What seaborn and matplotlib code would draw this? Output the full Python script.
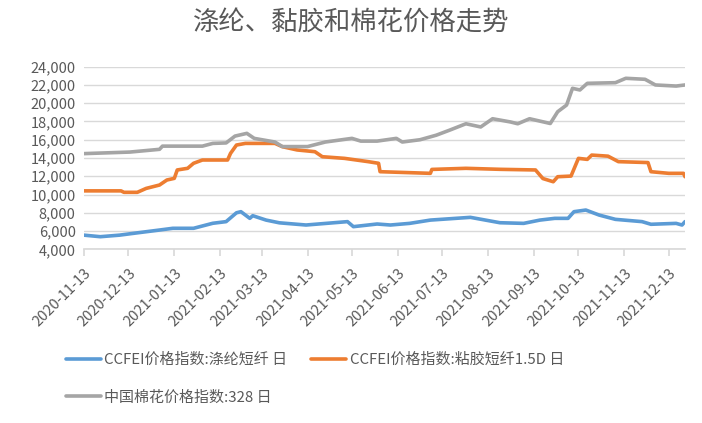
import matplotlib
matplotlib.use("Agg")
import matplotlib.pyplot as plt
import matplotlib.dates as mdates
import matplotlib.ticker as mticker
import pandas as pd
import seaborn as sns

# CCFEI价格指数:涤纶短纤
fechas_dt = ["2020-11-13", "2020-11-24", "2020-12-07", "2020-12-16", "2021-01-03",
             "2021-01-12", "2021-01-26", "2021-02-08", "2021-02-17", "2021-02-24",
             "2021-02-27", "2021-03-05", "2021-03-07", "2021-03-16", "2021-03-25",
             "2021-04-12", "2021-05-10", "2021-05-14", "2021-05-30", "2021-06-08",
             "2021-06-21", "2021-07-05", "2021-08-01", "2021-08-21", "2021-09-06",
             "2021-09-17", "2021-09-27", "2021-10-06", "2021-10-10", "2021-10-18",
             "2021-10-27", "2021-11-07", "2021-11-25", "2021-12-01", "2021-12-18",
             "2021-12-22", "2021-12-24"]
valores_dt = [5550, 5380, 5550, 5740, 6110, 6300, 6300, 6850, 7030, 8000,
              8120, 7390, 7680, 7200, 6900, 6660, 7030, 6480, 6770, 6660,
              6840, 7200, 7500, 6910, 6840, 7200, 7390, 7390, 8120, 8300,
              7750, 7280, 7030, 6740, 6840, 6660, 7030]

# CCFEI价格指数:粘胶短纤1.5D
fechas_vsf = ["2020-11-13", "2020-12-08", "2020-12-10", "2020-12-19", "2020-12-25",
              "2021-01-03", "2021-01-08", "2021-01-13", "2021-01-15", "2021-01-22",
              "2021-01-26", "2021-02-01", "2021-02-18", "2021-02-20", "2021-02-24",
              "2021-03-02", "2021-03-22", "2021-03-27", "2021-04-06", "2021-04-18",
              "2021-04-23", "2021-05-08", "2021-05-24", "2021-05-31", "2021-06-01",
              "2021-07-05", "2021-07-06", "2021-07-29", "2021-08-21", "2021-09-14",
              "2021-09-19", "2021-09-26", "2021-09-29", "2021-10-08", "2021-10-13",
              "2021-10-19", "2021-10-22", "2021-11-02", "2021-11-09", "2021-11-29",
              "2021-12-01", "2021-12-13", "2021-12-23", "2021-12-24"]
valores_vsf = [10400, 10400, 10240, 10240, 10670, 11040, 11590, 11770, 12690, 12870,
               13420, 13780, 13780, 14510, 15420, 15600, 15600, 15240, 14880, 14690,
               14140, 13960, 13600, 13420, 12500, 12320, 12750, 12870, 12760, 12690,
               11750, 11400, 11950, 12020, 13960, 13850, 14320, 14200, 13600, 13500,
               12500, 12320, 12320, 11950]

# 中国棉花价格指数:328
fechas_algodon = ["2020-11-13", "2020-12-14", "2021-01-03", "2021-01-05", "2021-02-01",
                  "2021-02-08", "2021-02-17", "2021-02-23", "2021-03-03", "2021-03-08",
                  "2021-03-22", "2021-03-27", "2021-04-13", "2021-04-25", "2021-05-13",
                  "2021-05-19", "2021-05-30", "2021-06-12", "2021-06-16", "2021-06-28",
                  "2021-07-09", "2021-07-18", "2021-07-29", "2021-08-08", "2021-08-16",
                  "2021-08-28", "2021-09-02", "2021-09-10", "2021-09-24", "2021-09-29",
                  "2021-10-05", "2021-10-09", "2021-10-14", "2021-10-19", "2021-11-07",
                  "2021-11-14", "2021-11-27", "2021-12-04", "2021-12-18", "2021-12-24"]
valores_algodon = [14480, 14650, 14950, 15300, 15300, 15600, 15650, 16400, 16700, 16150,
                   15750, 15250, 15250, 15750, 16150, 15850, 15850, 16150, 15750, 16000,
                   16500, 17050, 17750, 17400, 18300, 17950, 17750, 18300, 17780, 19070,
                   19800, 21630, 21450, 22180, 22250, 22730, 22620, 22000, 21880, 22000]

etiquetas = ["CCFEI价格指数:涤纶短纤 日", "CCFEI价格指数:粘胶短纤1.5D 日", "中国棉花价格指数:328 日"]
colores = ["#5B9BD5", "#ED7D31", "#A5A5A5"]

sns.set_theme(style="white")
plt.rcParams["font.family"] = ["Noto Sans CJK SC", "DejaVu Sans"]

fig = plt.figure(figsize=(7.02, 4.23), dpi=100)
ax = fig.add_axes([84 / 702, 1 - 249.3 / 423, (685 - 84) / 702, (249.3 - 66.7) / 423])

series = [(fechas_dt, valores_dt), (fechas_vsf, valores_vsf), (fechas_algodon, valores_algodon)]
for (f, v), lab, c in zip(series, etiquetas, colores):
    d = pd.DataFrame({"fecha": pd.to_datetime(f), "valor": v})
    sns.lineplot(data=d, x="fecha", y="valor", ax=ax, color=c, linewidth=2.6, label=lab)

ax.set_xlim(pd.Timestamp("2020-11-13"), pd.Timestamp("2021-12-24"))
ax.set_ylim(4000, 24000)
ax.yaxis.set_major_locator(mticker.MultipleLocator(2000))
ax.yaxis.set_major_formatter(mticker.FuncFormatter(lambda v, p: f"{int(v):,}"))
ax.xaxis.set_major_locator(mdates.MonthLocator(bymonthday=13))
ax.xaxis.set_major_formatter(mdates.DateFormatter("%Y-%m-%d"))
ax.grid(axis="y", color="#D9D9D9", linewidth=1)
ax.set_axisbelow(True)
for s in ["top", "right", "left"]:
    ax.spines[s].set_visible(False)
ax.spines["bottom"].set_color("#D9D9D9")
ax.tick_params(axis="y", length=0, labelsize=10.5, labelcolor="#595959", pad=6)
ax.tick_params(axis="x", bottom=True, length=5, color="#D9D9D9", labelsize=10.5,
               labelcolor="#595959", pad=7)
for t in ax.get_xticklabels():
    t.set_rotation(45)
    t.set_ha("right")
    t.set_rotation_mode("anchor")
ax.set_xlabel("")
ax.set_ylabel("")

fig.text(0.5, 1 - 23 / 423, "涤纶、黏胶和棉花价格走势", ha="center", va="center",
         fontsize=19, color="#595959")

h, l = ax.get_legend_handles_labels()
ax.legend([h[0], h[2], h[1]], [l[0], l[2], l[1]], ncol=2, frameon=False,
          loc="upper left", bbox_to_anchor=(66 / 702, 1 - 353 / 423),
          bbox_transform=fig.transFigure, fontsize=10.8, labelcolor="#595959",
          handlelength=2.3, handletextpad=0.25, columnspacing=1.6, labelspacing=1.55,
          borderpad=0, borderaxespad=0)

plt.savefig("out.png", dpi=100)
